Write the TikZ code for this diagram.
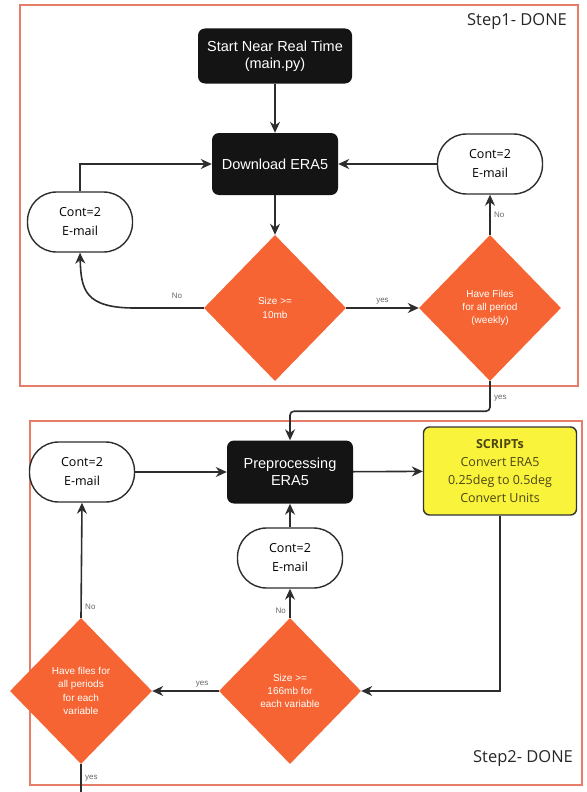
\documentclass[tikz,border=0pt]{standalone}
\usepackage{fontspec}
\setmainfont{Liberation Sans}
\newfontfamily\opensans{Open Sans}
\usetikzlibrary{shapes.geometric,arrows.meta}
\definecolor{frameC}{RGB}{230,125,105}
\definecolor{decC}{RGB}{245,100,50}
\definecolor{scriptC}{RGB}{250,243,60}
\definecolor{scriptT}{RGB}{75,70,20}
\definecolor{lineC}{RGB}{45,45,45}
\tikzset{
    BK/.style ={rectangle,rounded corners=7pt,fill=black!92,text=white,minimum width=126pt,minimum height=62pt,align=center,font=\fontsize{14.5}{17}\selectfont},
    EM/.style ={rectangle,rounded corners=29pt,draw=lineC,line width=1.4pt,fill=white,minimum width=105pt,minimum height=60pt,align=center,font=\opensans\fontsize{12.5}{19}\selectfont},
    DI/.style ={diamond,fill=decC,text=white,minimum width=142pt,minimum height=146pt,inner sep=0pt,align=center,font=\fontsize{10}{13.3}\selectfont},
    SC/.style ={rectangle,rounded corners=6pt,draw=black!80,line width=1.4pt,fill=scriptC,text=scriptT,minimum width=153pt,minimum height=88pt,align=center,font=\opensans\fontsize{12.5}{18}\selectfont},
    AR/.style ={draw=lineC,line width=1.6pt,-{Stealth[length=11pt,width=10pt]}},
    LN/.style ={draw=lineC,line width=1.6pt},
    LB/.style ={text=black!60,font=\fontsize{8}{9}\selectfont},
    FR/.style ={draw=frameC,line width=1.2pt},
    ST/.style ={font=\opensans\fontsize{16.5}{19}\selectfont,text=black!85}
}
\begin{document}
\begin{tikzpicture}[x=1pt,y=-1pt]
        \useasboundingbox (0,0) rectangle (586,792);
        % frames
        \draw[FR] (20,5) rectangle (578,386);
        \draw[FR] (30,421) rectangle (582,785);
        \node[ST] (s1) at (517,22) {Step1- DONE};
        \node[ST] (s2) at (523,758) {Step2- DONE};
        % step 1
        \node[BK,minimum width=154pt,minimum height=55pt] (start) at (275,56) {Start Near Real Time\\(main.py)};
        \node[BK] (dl) at (275,164) {Download ERA5};
        \node[EM] (cl1) at (80,222) {Cont=2\\E-mail};
        \node[EM] (cr1) at (490,164) {Cont=2\\E-mail};
        \node[DI] (sz1) at (275,308) {Size >=\\10mb};
        \node[DI] (hf1) at (490,308) {Have Files\\for all period\\(weekly)};
        \draw[AR] (start) -- (dl);
        \draw[AR] (dl) -- (sz1);
        \draw[AR] (sz1.west) -- (135,308) .. controls (85,308) and (81,290) .. (cl1.south);
        \node[LB] (no1) at (177,296) {No};
        \draw[AR] (cl1.north) |- (dl.west);
        \draw[AR] (sz1.east) -- (hf1.west) node[midway,above,LB]{yes};
        \draw[AR] (hf1.north) -- (cr1.south) node[midway,right,LB]{No};
        \draw[AR] (cr1.west) -- (dl.east);
        % step 2
        \node[BK,minimum height=63pt] (pre) at (290,472) {Preprocessing\\ERA5};
        \node[SC] (scr) at (500,471) {\textbf{SCRIPTs}\\Convert ERA5\\0.25deg to 0.5deg\\Convert Units};
        \node[EM] (cl2) at (82,472) {Cont=2\\E-mail};
        \node[EM] (cm2) at (290,558) {Cont=2\\E-mail};
        \node[DI] (sz2) at (290,691) {Size >=\\166mb for\\each variable};
        \node[DI] (hf2) at (81,691) {Have files for\\all periods\\for each\\variable};
        \draw[AR,rounded corners=4pt] (hf1.south) -- ++(0,30) node[pos=.55,right,LB]{yes} -| (pre.north);
        \draw[AR] (pre) -- (scr);
        \draw[AR] (scr.south) |- (sz2.east);
        \draw[AR] (sz2.north) -- (cm2.south) node[near start,left,LB]{No};
        \draw[AR] (cm2) -- (pre);
        \draw[AR] (sz2.west) -- (hf2.east) node[near start,above,LB]{yes};
        \draw[AR] (hf2.north) -- (cl2.south) node[pos=.1,right,LB]{No};
        \draw[AR] (cl2) -- (pre);
        \coordinate (out) at (81,792);
        \draw[LN] (hf2.south) -- (out) node[midway,right,LB]{yes};
    \end{tikzpicture}
\end{document}
